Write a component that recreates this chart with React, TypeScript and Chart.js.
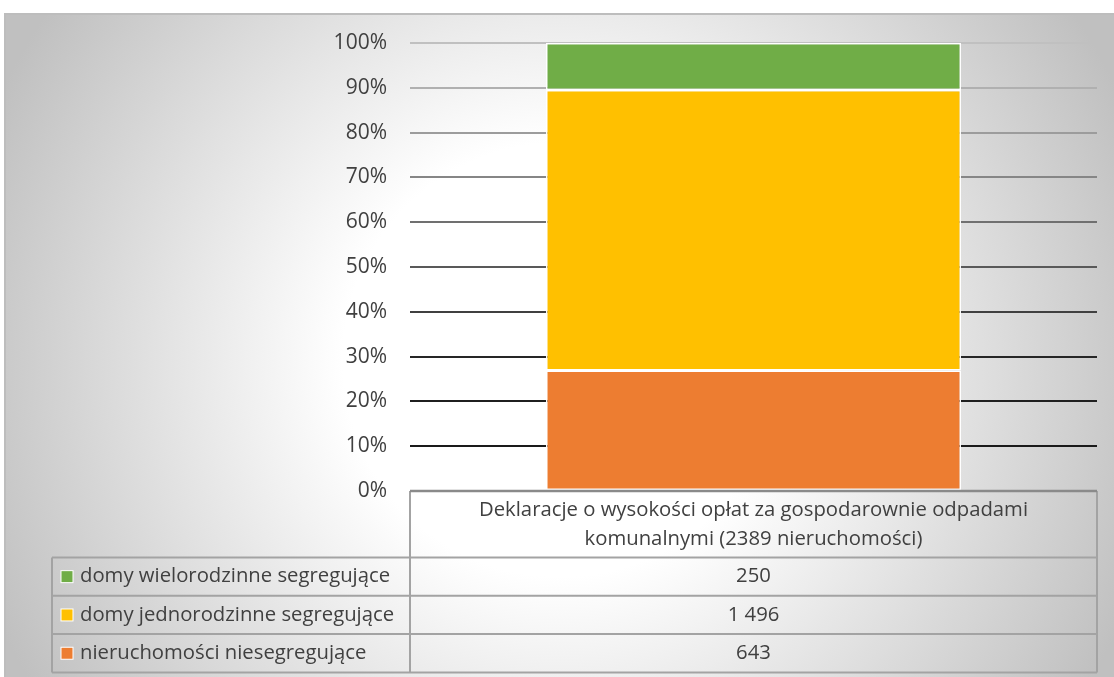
import React, { useEffect, useRef } from "react";
import { Chart, registerables } from "chart.js";

Chart.register(...registerables);

// ---------- data ----------
const categoryLines = [
  "Deklaracje o wysokości opłat za gospodarownie odpadami",
  "komunalnymi (2389 nieruchomości)",
];
const categories = ["Deklaracje o wysokości opłat za gospodarownie odpadami komunalnymi (2389 nieruchomości)"];
const seriesNames = [
  "nieruchomości niesegregujące",
  "domy jednorodzinne segregujące",
  "domy wielorodzinne segregujące",
];
const seriesCounts = [643, 1496, 250];
const seriesDisplay = ["643", "1 496", "250"];
const seriesColors = ["#ED7D31", "#FFC000", "#70AD47"];
const yTickValues = [0, 10, 20, 30, 40, 50, 60, 70, 80, 90, 100];
const gridColors = ["#8c8c8c", "#1a1a1a", "#1f1f1f", "#262626", "#404040", "#595959", "#707070", "#868686", "#9c9c9c", "#b0b0b0", "#c0c0c0"];

const W = 1114;
const H = 677;
const FONT = "'Open Sans', 'Noto Sans', sans-serif";
const TEXT = "#404040";

const total = seriesCounts.reduce((a, b) => a + b, 0);

const backgroundPlugin = {
  id: "bgGradient",
  beforeDraw(chart: any) {
    const ctx = chart.ctx as CanvasRenderingContext2D;
    ctx.save();
    ctx.fillStyle = "#ffffff";
    ctx.fillRect(0, 0, W, H);
    const g = ctx.createRadialGradient(560, 360, 0, 560, 360, 620);
    g.addColorStop(0, "#ffffff");
    g.addColorStop(0.35, "#ffffff");
    g.addColorStop(1, "#c0c0c0");
    ctx.fillStyle = g;
    ctx.fillRect(5, 13, W - 5, H - 13);
    ctx.strokeStyle = "#bdbdbd";
    ctx.lineWidth = 2;
    ctx.beginPath();
    ctx.moveTo(5, H);
    ctx.lineTo(5, 14);
    ctx.lineTo(W, 14);
    ctx.stroke();
    ctx.restore();
  },
};

const tablePlugin = {
  id: "dataTable",
  afterDraw(chart: any) {
    const ctx = chart.ctx as CanvasRenderingContext2D;
    const { left: L, right: R, bottom: T } = chart.chartArea;
    const headerH = 66.5;
    const rowH = 38.3;
    const legendLeft = 52;
    const mid = (L + R) / 2;
    const nRows = seriesNames.length;
    const bottom = T + headerH + rowH * nRows;

    ctx.save();
    ctx.strokeStyle = "#a3a3a3";
    ctx.lineWidth = 2;
    ctx.beginPath();
    ctx.moveTo(L, T);
    ctx.lineTo(L, bottom);
    ctx.moveTo(R, T);
    ctx.lineTo(R, bottom);
    ctx.moveTo(legendLeft, T + headerH);
    ctx.lineTo(legendLeft, bottom);
    for (let i = 0; i <= nRows; i++) {
      const y = T + headerH + rowH * i;
      ctx.moveTo(legendLeft, y);
      ctx.lineTo(R, y);
    }
    ctx.stroke();
    ctx.strokeStyle = "#8a8a8a";
    ctx.lineWidth = 2.5;
    ctx.beginPath();
    ctx.moveTo(L, T);
    ctx.lineTo(R, T);
    ctx.stroke();

    ctx.fillStyle = TEXT;
    ctx.font = `20.3px ${FONT}`;
    ctx.textBaseline = "middle";
    ctx.textAlign = "center";
    const hc = T + headerH / 2;
    ctx.fillText(categoryLines[0], mid, hc - 14.5);
    ctx.fillText(categoryLines[1], mid, hc + 14.5);

    for (let r = 0; r < nRows; r++) {
      const si = nRows - 1 - r;
      const cy = T + headerH + rowH * r + rowH / 2;
      ctx.textAlign = "center";
      ctx.fillStyle = TEXT;
      ctx.fillText(seriesDisplay[si], mid, cy);
      ctx.fillStyle = seriesColors[si];
      ctx.fillRect(61, cy - 6, 12, 12);
      ctx.strokeStyle = "#ffffff";
      ctx.lineWidth = 1;
      ctx.strokeRect(61, cy - 6, 12, 12);
      ctx.fillStyle = TEXT;
      ctx.textAlign = "left";
      ctx.fillText(seriesNames[si], 80, cy);
    }
    ctx.restore();
  },
};

export default function App() {
  const ref = useRef<HTMLCanvasElement | null>(null);

  useEffect(() => {
    document.body.style.margin = "0";
    const canvas = ref.current;
    if (!canvas) return;
    const chart = new Chart(canvas, {
      type: "bar",
      data: {
        labels: categories,
        datasets: seriesNames.map((name, i) => ({
          label: name,
          data: [(seriesCounts[i] / total) * 100],
          backgroundColor: seriesColors[i],
          borderColor: "#ffffff",
          borderWidth: 1.5,
          borderSkipped: false,
          barPercentage: 0.604,
          categoryPercentage: 1,
        })),
      },
      options: {
        responsive: false,
        animation: false,
        devicePixelRatio: 1,
        layout: { padding: { top: 43, right: 17, bottom: 186, left: 0 } },
        plugins: {
          legend: { display: false },
          tooltip: { enabled: false },
          title: { display: false },
        },
        scales: {
          x: { display: false, stacked: true },
          y: {
            stacked: true,
            min: 0,
            max: 100,
            afterFit: (scale: any) => {
              scale.width = 410;
            },
            afterBuildTicks: (scale: any) => {
              scale.ticks = yTickValues.map((v) => ({ value: v }));
            },
            border: { display: false },
            grid: {
              drawTicks: false,
              lineWidth: 2,
              color: (c: any) => {
                const v = c.tick ? c.tick.value : 0;
                const idx = yTickValues.indexOf(v);
                return gridColors[idx >= 0 ? idx : 0];
              },
            },
            ticks: {
              padding: 23,
              color: TEXT,
              font: { family: FONT, size: 21 },
              callback: (v: any) => `${v}%`,
            },
          },
        },
      },
      plugins: [backgroundPlugin, tablePlugin],
    });
    return () => chart.destroy();
  }, []);

  return <canvas ref={ref} width={W} height={H} style={{ display: "block" }} />;
}
